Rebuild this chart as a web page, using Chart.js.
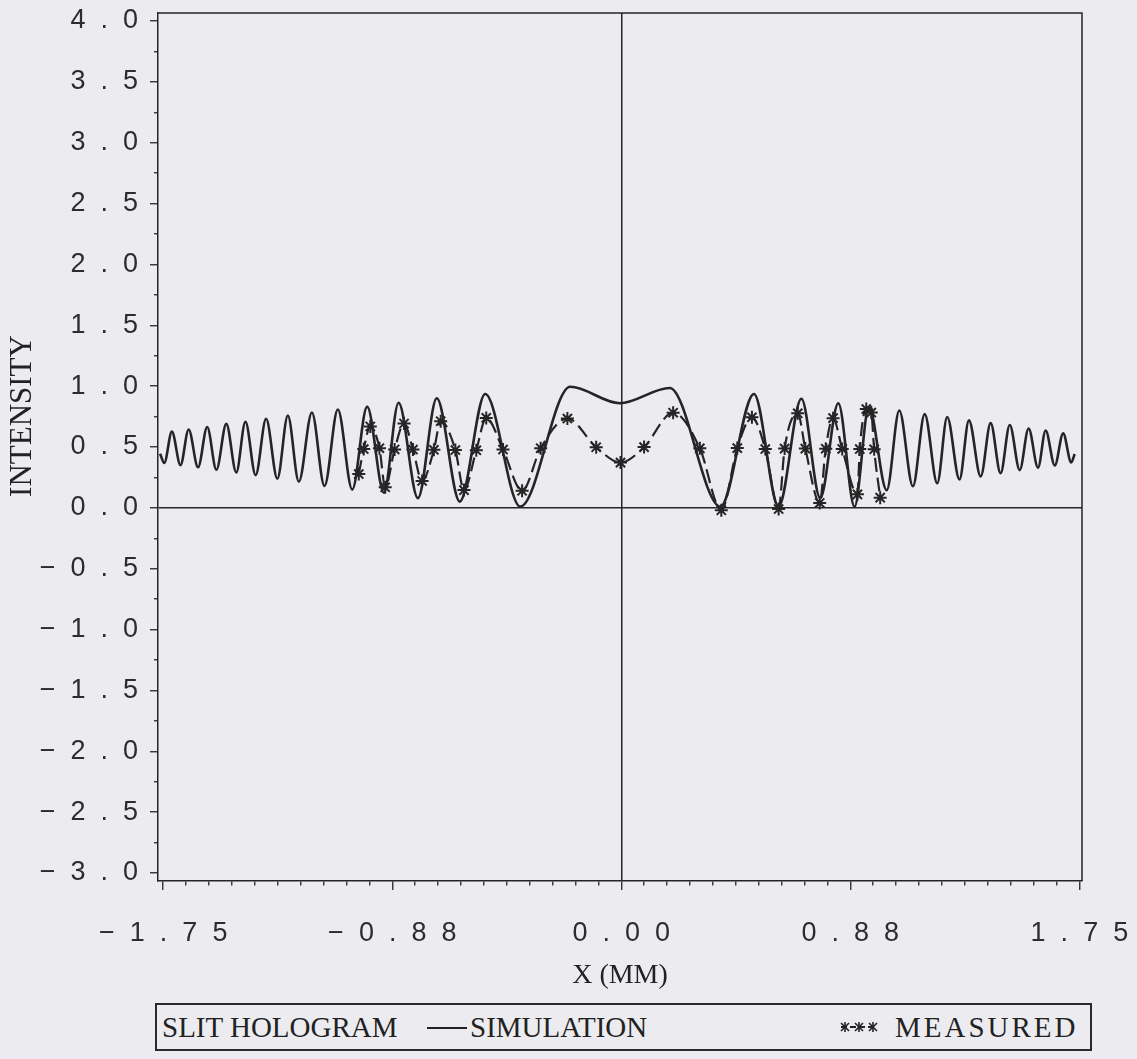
<!DOCTYPE html>
<html>
<head>
<meta charset="utf-8">
<script src="https://cdn.jsdelivr.net/npm/chart.js@4.4.0/dist/chart.umd.min.js"></script>
<style>
  html, body { margin: 0; padding: 0; background: #ececf0; }
  #wrap { position: relative; width: 1137px; height: 1059px; }
  #chart { position: absolute; left: 0; top: 0; }
  #legend {
    position: absolute; left: 155px; top: 1003px; width: 933px; height: 44px;
    border: 2px solid #2a2a2a; font-family: "Liberation Serif", serif; font-size: 29px; color: #222;
  }
  #legend .item { position: absolute; top: 50%; transform: translateY(-50%); white-space: nowrap; }
  #legend .line { position: absolute; top: 22px; height: 0; border-top: 2px solid #222; }
</style>
</head>
<body>
<div id="wrap">
  <canvas id="chart" width="1137" height="1000"></canvas>
  <div id="legend">
    <span class="item" style="left:5px">SLIT HOLOGRAM</span>
    <span class="line" style="left:270px;width:40px"></span>
    <span class="item" style="left:313px">SIMULATION</span>
    <svg class="item" style="left:683px" width="38" height="14" viewBox="0 0 38 14">
      <line x1="1" y1="7" x2="37" y2="7" stroke="#222" stroke-width="2" stroke-dasharray="6 3"/>
      <g stroke="#222" stroke-width="1.6">
        <line x1="1" y1="3" x2="9" y2="11"/><line x1="9" y1="3" x2="1" y2="11"/><line x1="5" y1="2" x2="5" y2="12"/>
        <line x1="15" y1="3" x2="23" y2="11"/><line x1="23" y1="3" x2="15" y2="11"/><line x1="19" y1="2" x2="19" y2="12"/>
        <line x1="29" y1="3" x2="37" y2="11"/><line x1="37" y1="3" x2="29" y2="11"/><line x1="33" y1="2" x2="33" y2="12"/>
      </g>
    </svg>
    <span class="item" style="left:738px;letter-spacing:3px">MEASURED</span>
  </div>
</div>
<script>
// simulated intensity (extrema of the fringes)
const simX = [-1.762, -1.746, -1.717, -1.684, -1.653, -1.617, -1.582, -1.547, -1.509, -1.471,
  -1.436, -1.397, -1.357, -1.314, -1.274, -1.232, -1.182, -1.134, -1.083, -1.028,
  -0.971, -0.907, -0.851, -0.777, -0.705, -0.617, -0.520, -0.386, -0.195, -0.006,
  0.185, 0.379, 0.507, 0.601, 0.688, 0.760, 0.829, 0.891, 0.946, 1.014,
  1.062, 1.114, 1.159, 1.207, 1.245, 1.292, 1.328, 1.373, 1.411, 1.449,
  1.484, 1.522, 1.556, 1.592, 1.621, 1.656, 1.688, 1.719, 1.732];
const simY = [0.444, 0.369, 0.626, 0.351, 0.644, 0.333, 0.664, 0.313, 0.690, 0.291,
  0.707, 0.268, 0.732, 0.239, 0.759, 0.215, 0.783, 0.180, 0.808, 0.150,
  0.832, 0.124, 0.864, 0.080, 0.900, 0.051, 0.936, 0.010, 0.995, 0.860,
  0.985, 0.010, 0.936, 0.010, 0.896, 0.081, 0.860, 0.010, 0.829, 0.145,
  0.800, 0.177, 0.770, 0.202, 0.746, 0.233, 0.719, 0.258, 0.696, 0.284,
  0.681, 0.310, 0.652, 0.330, 0.636, 0.348, 0.612, 0.373, 0.442];

// measured points (stars)
const measX = [-1.003, -0.984, -0.959, -0.924, -0.902, -0.866, -0.830, -0.796, -0.761, -0.716,
  -0.690, -0.634, -0.601, -0.554, -0.516, -0.452, -0.379, -0.308, -0.206, -0.096,
  -0.003, 0.087, 0.198, 0.300, 0.382, 0.443, 0.499, 0.550, 0.601, 0.624,
  0.674, 0.703, 0.758, 0.781, 0.809, 0.844, 0.902, 0.911, 0.936, 0.955,
  0.966, 0.989];
const measY = [0.278, 0.483, 0.669, 0.490, 0.169, 0.480, 0.693, 0.479, 0.221, 0.477,
  0.712, 0.475, 0.146, 0.473, 0.739, 0.479, 0.140, 0.490, 0.734, 0.498,
  0.372, 0.499, 0.782, 0.489, -0.02, 0.491, 0.744, 0.483, -0.01, 0.487,
  0.777, 0.487, 0.040, 0.486, 0.737, 0.484, 0.111, 0.483, 0.812, 0.783,
  0.481, 0.084];

const xTickValues = [-1.75, -0.875, 0, 0.875, 1.75];
const xTickLabels = ['-1.75', '-0.88', '0.00', '0.88', '1.75'];
const yTickValues = [-3, -2.5, -2, -1.5, -1, -0.5, 0, 0.5, 1, 1.5, 2, 2.5, 3, 3.5, 4];
const yTickLabels = ['-3.0', '-2.5', '-2.0', '-1.5', '-1.0', '-0.5', '0.0', '0.5',
  '1.0', '1.5', '2.0', '2.5', '3.0', '3.5', '4.0'];

const INK = '#252525';

// plotter style: wide gaps between characters
function plotter(s) {
  return s.replace('-', '\u2212').split('').join('  ');
}

function tickIndex(values, value) {
  return values.findIndex(v => Math.abs(v - value) < 1e-6);
}

function tickLabel(values, labels) {
  return value => {
    const i = tickIndex(values, value);
    return i < 0 ? '' : plotter(labels[i]);
  };
}

const frame = {
  id: 'frame',
  afterDraw(chart) {
    const { ctx, chartArea: a } = chart;
    ctx.save();
    ctx.strokeStyle = INK;
    ctx.lineWidth = 1.5;
    ctx.beginPath();
    ctx.moveTo(a.left, a.top);
    ctx.lineTo(a.right, a.top);
    ctx.lineTo(a.right, a.bottom);
    ctx.stroke();
    ctx.restore();
  }
};

const zeroLine = c => (c.tick && c.tick.value === 0 ? INK : 'rgba(0,0,0,0)');
const isMajor = (values, c) => c.tick && tickIndex(values, c.tick.value) >= 0;

new Chart(document.getElementById('chart').getContext('2d'), {
  type: 'line',
  data: {
    datasets: [
      {
        label: 'SIMULATION',
        data: simX.map((x, i) => ({ x, y: simY[i] })),
        borderColor: INK,
        borderWidth: 2.6,
        pointRadius: 0,
        cubicInterpolationMode: 'monotone',
        fill: false
      },
      {
        label: 'MEASURED',
        data: measX.map((x, i) => ({ x, y: measY[i] })),
        borderColor: INK,
        borderWidth: 2.2,
        borderDash: [14, 6],
        pointStyle: 'star',
        pointRadius: 6.5,
        pointBorderWidth: 2,
        pointBorderColor: INK,
        pointBackgroundColor: INK,
        cubicInterpolationMode: 'monotone',
        fill: false
      }
    ]
  },
  options: {
    responsive: false,
    animation: false,
    devicePixelRatio: 1,
    layout: { padding: { top: 13, right: 55, left: 0, bottom: 0 } },
    plugins: {
      legend: { display: false },
      tooltip: { enabled: false }
    },
    scales: {
      x: {
        type: 'linear',
        min: -1.77,
        max: 1.76,
        afterFit(s) { s.height = 119; s.paddingLeft = 0; s.paddingRight = 0; },
        border: { display: true, color: INK, width: 1.5 },
        grid: {
          color: zeroLine,
          lineWidth: 1.5,
          tickColor: INK,
          tickLength: 9,
          tickWidth: 1.3,
          tickBorderDash: c => (isMajor(xTickValues, c) ? [] : [4, 30])
        },
        ticks: {
          stepSize: 0.0875,
          includeBounds: false,
          autoSkip: false,
          maxRotation: 0,
          padding: 27,
          color: '#2c2c2c',
          font: { family: '"Liberation Sans", sans-serif', size: 27 },
          callback: tickLabel(xTickValues, xTickLabels)
        },
        title: {
          display: true,
          text: 'X (MM)',
          color: '#222',
          font: { family: '"Liberation Serif", serif', size: 28 },
          padding: { top: 0, bottom: 8 }
        }
      },
      y: {
        min: -3.066,
        max: 4.066,
        afterFit(s) { s.width = 158; s.paddingTop = 0; s.paddingBottom = 0; },
        border: { display: true, color: INK, width: 1.5 },
        grid: {
          color: zeroLine,
          lineWidth: 1.5,
          tickColor: INK,
          tickLength: 8,
          tickWidth: 1.3,
          tickBorderDash: c => (isMajor(yTickValues, c) ? [] : [4, 4]),
          tickBorderDashOffset: c => (isMajor(yTickValues, c) ? 0 : 4)
        },
        ticks: {
          stepSize: 0.25,
          includeBounds: false,
          autoSkip: false,
          padding: 12,
          color: '#2c2c2c',
          font: { family: '"Liberation Sans", sans-serif', size: 27 },
          callback: tickLabel(yTickValues, yTickLabels)
        },
        title: {
          display: true,
          text: '        INTENSITY',
          color: '#222',
          font: { family: '"Liberation Serif", serif', size: 31 },
          padding: { top: 4, bottom: 0 }
        }
      }
    }
  },
  plugins: [frame]
});
</script>
</body>
</html>
